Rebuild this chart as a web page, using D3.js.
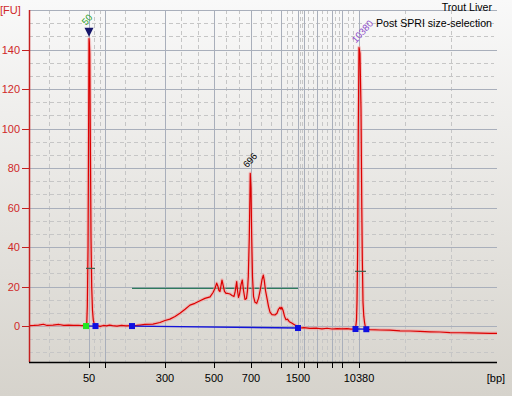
<!DOCTYPE html>
<html>
<head>
<meta charset="utf-8">
<script src="https://cdn.jsdelivr.net/npm/d3@7"></script>
<style>
  body { margin: 0; }
  svg { display: block; font-family: "Liberation Sans", Arial, sans-serif; }
</style>
</head>
<body>
<div id="chart"></div>
<script>
// ladder sizes (bp) and which of them get a label
const ladder = [50, 100, 300, 500, 700, 1000, 1500, 2000, 3000, 5000, 7000, 10380];
const labelledSizes = [50, 300, 500, 700, 1500, 10380];
const yTicks = [0, 20, 40, 60, 80, 100, 120, 140];

// electropherogram trace [bp, FU]
const trace = [
  [0,0.2],[4,0.3],[8,0.5],[12,0.9],[15,0.3],[20,0.5],[25,0.8],[29,0.3],[33,0.5],[37,0.3],[41,0.4],[44,0.2],[47,0.3],
  [48.1,0.5],[48.6,10],[49.2,40],[49.6,90],[50,145.5],[51,144],[52.5,138],[54,100],[56.25,45],[58.4,20],[60.9,8],[63.4,3],[67.2,0.6],[71.9,0.3],
  [78,0.1],[85,-0.2],[95,0.3],[105,0.1],[115,0.5],[125,0.2],[140,0],[155,0.3],[170,0.1],[190,0.2],
  [205,0.3],[216.7,0.5],[233,0.8],[260,1.0],[283,1.8],[300,2.8],[320,3.5],[341,4.8],[361,6.5],[382,8.5],[402,10.6],[422,11.5],[443,12.8],[463,14],[484,14.8],[496,17],
  [505,19],[514.6,21.7],[521.6,20],[527,18],[532.4,17.5],[537.8,20.5],[543.2,23.3],[548.6,21],[556.7,17.5],[565,16.5],[575.7,16.5],[586.5,16.2],[597.3,15.5],[608,15],
  [613.5,17],[622.7,22.5],[627,18],[632.4,14.5],[637.8,16],[646,21],[653,23.3],[659.5,18],[667.6,13.5],[675.7,14],[681,18],[685.4,25],[690.8,45],
  [696,77.3],[700,70],[707,45],[715,25],[725,15],[740,12],[757,11.5],[775,14],[795,19],[810,23.5],[823,25.8],[833,23],[845,18],[860,14],[875,10],[890,7],
  [910,5.8],[940,5.6],[960,6.5],[975,8.5],[990,9.5],[1000,8.5],[1021,9.5],[1059,8],[1103,5],[1147,3.2],[1191,3.5],[1244,2.2],[1315,1.5],[1382,0.8],[1462,0],[1500,-1],
  [1667,-1],[2000,-0.8],[2460,-1.2],[3000,-1.1],[3670,-1.4],[4330,-1.1],[5000,-1.5],[6000,-1.3],[7000,-1.4],[8000,-1.3],[8790,-1.6],[9390,-1.5],[9684,-1.5],
  [9883,3],[9982,12],[10121,40],[10241,100],[10380,141],[10428,138],[10476,110],[10514,60],[10538,35],[10572,12],[10610,5],[10644,2],[10692,-1],[10730,-1.6],
  [10907,-1.8],[11387,-2.0],[11867,-2.1],[12347,-2.4],[12826,-2.5],[13306,-2.7],[13786,-2.9],[14266,-3.0],[14745,-3.3],[15225,-3.4],[15705,-3.5],[16185,-3.6],[16664,-3.7],[17000,-3.7]
];

// called peaks
const peakSizes = [50, 696, 10380];
const peakHeights = [145.5, 77.3, 141];
const peakLabels = ['50', '696', '10380'];

// baseline segments of the peak table [[startBp, startFU], [endBp, endFU]]
const baselines = [
  [[47.5, 0], [70.3, 0]],
  [[190, 0], [1500, -1]],
  [[9684, -1.5], [10730, -1.6]]
];
// smear region and its level
const region = [190, 1500];
const regionLevel = 19.1;
// short width bars on the markers [fromBp, toBp, FU]
const widthBars = [[47.5, 68.75, 29.2], [9585, 10716, 27.7]];

const W = 512, H = 396;
const plotLeft = 29, plotRight = 497, plotTop = 10, plotBottom = 362;

const svg = d3.select('#chart').append('svg')
  .attr('width', W)
  .attr('height', H);

const defs = svg.append('defs');
const bg = defs.append('linearGradient')
  .attr('id', 'bg')
  .attr('x1', 0).attr('y1', 0).attr('x2', 0).attr('y2', 1);
bg.append('stop').attr('offset', '0%').attr('stop-color', '#f9f9f9');
bg.append('stop').attr('offset', '100%').attr('stop-color', '#d6d3cc');

svg.append('rect')
  .attr('width', W)
  .attr('height', H)
  .attr('fill', 'url(#bg)');

// piecewise scale: sizes are placed by ladder migration
const xDomain = [0, ...ladder, 17000];
const x = d3.scaleLinear()
  .domain(xDomain)
  .range([plotLeft, 89, 105, 165, 214, 251, 281, 298, 304, 317, 332, 342, 359, plotRight]);

const y = d3.scaleLinear()
  .domain([-18.2, 160])
  .range([plotBottom, plotTop]);

// grid
const grid = svg.append('g');
const minorX = [];
for (let i = 0; i < xDomain.length - 1; i++) {
  const a = xDomain[i], b = xDomain[i + 1];
  minorX.push(a + (b - a) / 3, a + 2 * (b - a) / 3);
}
const minorY = [];
for (let v = -20; v < 160; v += 20) {
  minorY.push(v + 20 / 3, v + 40 / 3);
}

grid.selectAll('.mx').data(minorX).join('line')
  .attr('x1', d => Math.round(x(d)) + 0.5).attr('x2', d => Math.round(x(d)) + 0.5)
  .attr('y1', plotTop).attr('y2', plotBottom)
  .attr('stroke', '#c6c6c6').attr('stroke-dasharray', '4,3');

grid.selectAll('.my').data(minorY.filter(v => v > -18.2)).join('line')
  .attr('x1', plotLeft).attr('x2', plotRight - 3)
  .attr('y1', d => Math.round(y(d)) + 0.5).attr('y2', d => Math.round(y(d)) + 0.5)
  .attr('stroke', '#c6c6c6').attr('stroke-dasharray', '4,3');

grid.selectAll('.gx').data(ladder).join('line')
  .attr('x1', d => Math.round(x(d)) + 0.5).attr('x2', d => Math.round(x(d)) + 0.5)
  .attr('y1', plotTop).attr('y2', plotBottom)
  .attr('stroke', '#a9afbb');

grid.selectAll('.gy').data(d3.range(0, 161, 20)).join('line')
  .attr('x1', plotLeft).attr('x2', plotRight)
  .attr('y1', d => Math.round(y(d)) + 0.5).attr('y2', d => Math.round(y(d)) + 0.5)
  .attr('stroke', '#a9afbb');

// region level line
svg.append('line')
  .attr('x1', x(region[0])).attr('x2', x(region[1]))
  .attr('y1', y(regionLevel)).attr('y2', y(regionLevel))
  .attr('stroke', '#2e7a5c').attr('stroke-width', 1.2);

// trace
const line = d3.line()
  .x(d => x(d[0]))
  .y(d => y(d[1]));

svg.append('path')
  .datum(trace)
  .attr('d', line)
  .attr('fill', 'none')
  .attr('stroke', '#f29a9a')
  .attr('stroke-opacity', 0.55)
  .attr('stroke-width', 3.5)
  .attr('stroke-linejoin', 'round');

svg.append('path')
  .datum(trace)
  .attr('d', line)
  .attr('fill', 'none')
  .attr('stroke', '#dc0000')
  .attr('stroke-width', 1.2)
  .attr('stroke-linejoin', 'round');

// width bars
svg.selectAll('.wb').data(widthBars).join('line')
  .attr('x1', d => x(d[0])).attr('x2', d => x(d[1]))
  .attr('y1', d => y(d[2])).attr('y2', d => y(d[2]))
  .attr('stroke', '#3b5e4c').attr('stroke-width', 1.2);

// baselines and their end markers
svg.selectAll('.bl').data(baselines).join('line')
  .attr('x1', d => x(d[0][0])).attr('y1', d => y(d[0][1]))
  .attr('x2', d => x(d[1][0])).attr('y2', d => y(d[1][1]))
  .attr('stroke', '#1414d8').attr('stroke-width', 1.3);

const ends = baselines.flatMap((seg, i) => seg.map((p, j) => ({ p, first: i === 0 && j === 0 })));
svg.selectAll('.mk').data(ends).join('rect')
  .attr('x', d => x(d.p[0]) - 3)
  .attr('y', d => y(d.p[1]) - 3)
  .attr('width', 6).attr('height', 6)
  .attr('fill', d => d.first ? '#22e622' : '#1010e0');

// lower-marker triangle
const p0x = x(peakSizes[0]), p0y = y(peakHeights[0]);
svg.append('path')
  .attr('d', `M${p0x - 4.5},${p0y - 11}L${p0x + 4.5},${p0y - 11}L${p0x},${p0y - 2}Z`)
  .attr('fill', '#16166a');

// peak labels
const labelColors = ['#1f9e1f', '#000000', '#8a46c8'];
const labelLift = [13, 5, 4];
svg.selectAll('.pl').data(peakSizes).join('text')
  .attr('transform', (d, i) => `translate(${x(d) - 3},${y(peakHeights[i]) - labelLift[i]}) rotate(-48)`)
  .attr('font-size', 9.5)
  .attr('fill', (d, i) => labelColors[i])
  .text((d, i) => peakLabels[i]);

// axes
svg.append('line')
  .attr('x1', plotLeft + 0.5).attr('x2', plotLeft + 0.5)
  .attr('y1', plotTop).attr('y2', plotBottom)
  .attr('stroke', '#c42020').attr('stroke-width', 1.5);

svg.selectAll('.yt').data(yTicks).join('line')
  .attr('x1', plotLeft - 7).attr('x2', plotLeft)
  .attr('y1', d => Math.round(y(d)) + 0.5).attr('y2', d => Math.round(y(d)) + 0.5)
  .attr('stroke', '#c42020');

svg.selectAll('.yl').data(yTicks).join('text')
  .attr('x', 20).attr('y', d => y(d) + 4)
  .attr('text-anchor', 'end')
  .attr('font-size', 11)
  .attr('fill', '#d02828')
  .text(d => d);

svg.append('text')
  .attr('x', 0).attr('y', 14)
  .attr('font-size', 11)
  .attr('fill', '#d02828')
  .text('[FU]');

svg.append('line')
  .attr('x1', plotLeft).attr('x2', plotRight)
  .attr('y1', plotBottom + 0.5).attr('y2', plotBottom + 0.5)
  .attr('stroke', '#000').attr('stroke-width', 1.5);

svg.selectAll('.xt').data(ladder).join('line')
  .attr('x1', d => Math.round(x(d)) + 0.5).attr('x2', d => Math.round(x(d)) + 0.5)
  .attr('y1', plotBottom).attr('y2', plotBottom + 6)
  .attr('stroke', '#000');

svg.selectAll('.xl').data(labelledSizes).join('text')
  .attr('x', d => x(d)).attr('y', 382)
  .attr('text-anchor', 'middle')
  .attr('font-size', 11)
  .attr('fill', '#000')
  .text(d => d);

svg.append('text')
  .attr('x', plotRight - 1).attr('y', 382)
  .attr('text-anchor', 'middle')
  .attr('font-size', 11)
  .text('[bp]');

// titles
svg.append('text')
  .attr('x', 492).attr('y', 11)
  .attr('text-anchor', 'end')
  .attr('font-size', 10.6)
  .text('Trout Liver');

svg.append('text')
  .attr('x', 492).attr('y', 27)
  .attr('text-anchor', 'end')
  .attr('font-size', 10.6)
  .text('Post SPRI size-selection');
</script>
</body>
</html>
